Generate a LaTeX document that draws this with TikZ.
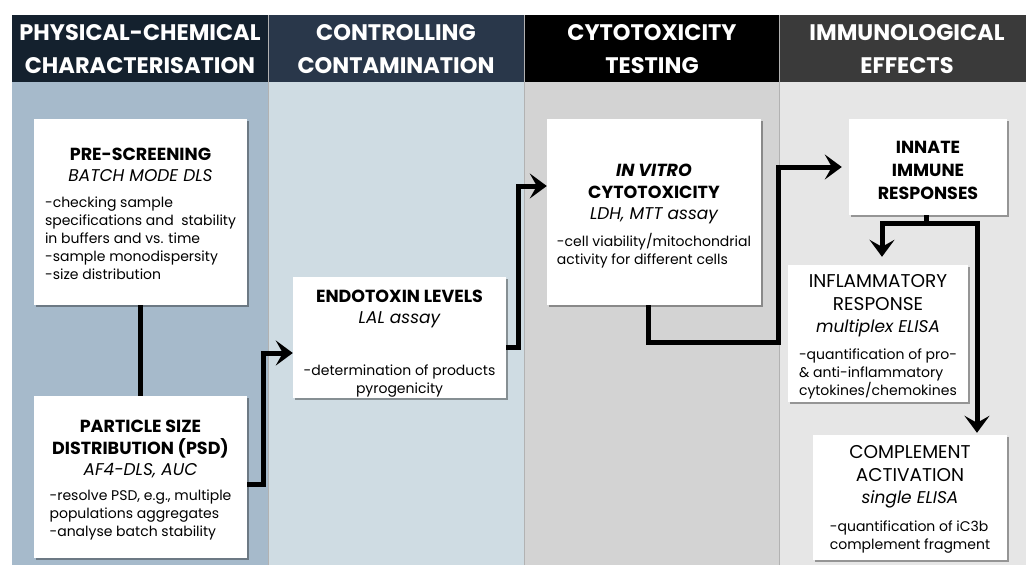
\documentclass[tikz,border=0pt]{standalone}
\usepackage{fontspec}
\setmainfont{Poppins}
\usetikzlibrary{arrows.meta,shadows,calc}
\definecolor{hA}{HTML}{14212E}
\definecolor{hB}{HTML}{29374A}
\definecolor{hC}{HTML}{000000}
\definecolor{hD}{HTML}{3A3A3A}
\definecolor{bA}{HTML}{A6BACB}
\definecolor{bB}{HTML}{CFDCE3}
\definecolor{bC}{HTML}{D3D3D3}
\definecolor{bD}{HTML}{E6E6E6}
\newcommand\bxtitle[1]{{\bfseries\fontsize{17.5}{20}\selectfont #1}}
\newcommand\bxtitlereg[1]{{\fontsize{18.5}{20}\selectfont #1}}
\newcommand\bxsub[1]{{\itshape\fontsize{17}{20}\selectfont #1}}
\tikzset{
  hdrtext/.style={text=white, font=\bfseries\fontsize{22.5}{33}\selectfont, align=center},
  infobox/.style={fill=white, draw=none, inner sep=0pt,
    drop shadow={shadow xshift=2pt, shadow yshift=-2pt, opacity=0.35, fill=black}},
  boxtext/.style={inner sep=0pt, align=center, font=\fontsize{14}{18}\selectfont},
  link/.style={line width=5pt, draw=black},
  conn/.style={link, -{Stealth[length=17pt,width=25pt,inset=7pt]}}
}
\begin{document}
\begin{tikzpicture}[x=1pt,y=-1pt]
\useasboundingbox (0,0) rectangle (1026,565);
\fill[white] (0,0) rectangle (1026,565);
% column bodies
\fill[bA] (12,82) rectangle (268,565);
\fill[bB] (268,82) rectangle (524,565);
\fill[bC] (524,82) rectangle (779,565);
\fill[bD] (779,82) rectangle (1026,565);
% headers
\fill[hA] (12,15) rectangle (268,82);
\fill[hB] (268,15) rectangle (524,82);
\fill[hC] (524,15) rectangle (779,82);
\fill[hD] (779,15) rectangle (1026,82);
\draw[gray!60, line width=0.8pt] (268,15) -- (268,565) (524,15) -- (524,565) (779,15) -- (779,565);
\node[hdrtext] (h1) at (140,49) {PHYSICAL-CHEMICAL\\CHARACTERISATION};
\node[hdrtext] (h2) at (396,49) {CONTROLLING\\CONTAMINATION};
\node[hdrtext] (h3) at (652,49) {CYTOTOXICITY\\TESTING};
\node[hdrtext] (h4) at (907,49) {IMMUNOLOGICAL\\EFFECTS};
% boxes
\node[infobox, minimum width=213pt, minimum height=186pt] (pre) at (140.5,212) {};
\node[infobox, minimum width=213pt, minimum height=162pt] (psd) at (140.5,477) {};
\node[infobox, minimum width=213pt, minimum height=121pt] (endo) at (399.5,337.5) {};
\node[infobox, minimum width=214pt, minimum height=186pt] (vitro) at (654,212) {};
\node[infobox, minimum width=158pt, minimum height=96pt] (innate) at (928,167) {};
\node[infobox, minimum width=180pt, minimum height=137pt] (infl) at (878,333.5) {};
\node[infobox, minimum width=194pt, minimum height=125pt] (comp) at (910,497.5) {};
% box texts
\node[boxtext] (preT) at ([yshift=-4pt]pre.center) {%
  \bxtitle{PRE-SCREENING}\\[3pt]
  \bxsub{BATCH MODE DLS}\\[8pt]
  \begin{tabular}[t]{@{}l@{}}-checking sample\\ specifications and\ \ stability\\ in buffers and vs. time\\ -sample monodispersity\\ -size distribution\end{tabular}};
\node[boxtext] (psdT) at ([yshift=-4pt]psd.center) {%
  \bxtitle{PARTICLE SIZE}\\[4pt]
  \bxtitle{DISTRIBUTION (PSD)}\\[3pt]
  \bxsub{AF4-DLS, AUC}\\[7pt]
  \begin{tabular}[t]{@{}l@{}}-resolve PSD, e.g., multiple\\ populations aggregates\\ -analyse batch stability\end{tabular}};
\node[boxtext] (endoT) at ([yshift=-6pt]endo.center) {%
  \bxtitle{ENDOTOXIN LEVELS}\\[3pt]
  \bxsub{LAL assay}\\[34pt]
  -determination of products\\ pyrogenicity};
\node[boxtext] (vitroT) at ([yshift=-5pt]vitro.center) {%
  {\bfseries\itshape\fontsize{17.5}{20}\selectfont IN VITRO}\\[4pt]
  \bxtitle{CYTOTOXICITY}\\[3pt]
  \bxsub{LDH, MTT assay}\\[9pt]
  \begin{tabular}[t]{@{}l@{}}-cell viability/mitochondrial\\ activity for different cells\end{tabular}};
\node[boxtext] (innateT) at ([yshift=-3pt]innate.center) {%
  \bxtitle{INNATE}\\[5pt] \bxtitle{IMMUNE}\\[5pt] \bxtitle{RESPONSES}};
\node[boxtext] (inflT) at ([yshift=-4pt]infl.center) {%
  \bxtitlereg{INFLAMMATORY}\\[5pt]
  \bxtitlereg{RESPONSE}\\[4pt]
  \bxsub{multiplex ELISA}\\[9pt]
  \begin{tabular}[t]{@{}l@{}}-quantification of pro-\\ \& anti-inflammatory\\ cytokines/chemokines\end{tabular}};
\node[boxtext] (compT) at ([yshift=-3pt]comp.center) {%
  \bxtitlereg{COMPLEMENT}\\[5pt]
  \bxtitlereg{ACTIVATION}\\[4pt]
  \bxsub{single ELISA}\\[10pt]
  \begin{tabular}[t]{@{}l@{}}-quantification of iC3b\\ complement fragment\end{tabular}};
% connectors
\draw[link] (pre.south) -- (psd.north);
\draw[conn] ([yshift=-7pt]psd.east) -- ++(16,0) |- ([yshift=-15.5pt]endo.west);
\draw[conn] ([yshift=-9.5pt]endo.east) -- ++(12,0) |- ([yshift=26pt]vitro.west);
\draw[conn, shorten >=7pt] ([xshift=-6pt]vitro.south) -- ++(0,37) -- ++(130,0) |- (innate.west);
\draw[link] ([xshift=-2pt]innate.south) -- ++(0,11) coordinate (split);
\draw[conn, shorten >=8pt] ([xshift=-2pt,yshift=2.5pt]split) -| ([xshift=4pt]infl.north);
\draw[conn, shorten >=2pt] ([xshift=2pt,yshift=2.5pt]split) -| ([xshift=67pt]comp.north);
\end{tikzpicture}
\end{document}
